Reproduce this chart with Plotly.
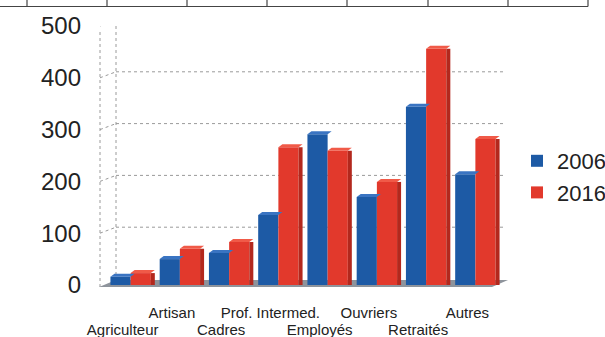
import plotly.graph_objects as go

# Categories and values
categories = ["Agriculteur", "Artisan", "Cadres", "Prof. Intermed.",
              "Employés", "Ouvriers", "Retraités", "Autres"]
values_2006 = [16, 50, 62, 135, 291, 170, 344, 214]
values_2016 = [23, 70, 83, 266, 259, 199, 456, 282]
y_ticks = [0, 100, 200, 300, 400, 500]

BLUE = "#1d5aa5"
BLUE_TOP = "#3a74c2"
RED = "#e2392c"
RED_TOP = "#f05a48"
RED_SIDE = "#b3281d"
FONT = "Liberation Sans, Arial, sans-serif"

W, H = 605, 337
L, R, T, B = 106, 500, 26, 285   # plot area in pixels
DX, DY = 4, 3                    # depth offset of the bar tops


def px(x):
    return (x - L) / (R - L)


def py(y):
    return (B - y) / (B - T)


fig = go.Figure()
fig.add_trace(go.Bar(name="2006", x=categories, y=values_2006,
                     marker=dict(color=BLUE, line=dict(width=0))))
fig.add_trace(go.Bar(name="2016", x=categories, y=values_2016,
                     marker=dict(color=RED, line=dict(width=0))))

shapes = []
line_grey = dict(color="#9a9a9a", width=1, dash="dot")

# table rule above the chart
shapes.append(dict(type="line", xref="paper", yref="paper",
                   x0=px(0), x1=px(588), y0=py(6.5), y1=py(6.5),
                   line=dict(color="#444", width=1.2)))
for xv in [27, 107, 187, 267, 347, 428, 508, 588]:
    shapes.append(dict(type="line", xref="paper", yref="paper",
                       x0=px(xv), x1=px(xv), y0=py(0), y1=py(6.5),
                       line=dict(color="#444", width=1.2)))

# left wall edges
shapes.append(dict(type="line", xref="paper", yref="paper", layer="below",
                   x0=px(100), x1=px(100), y0=py(287), y1=py(29), line=line_grey))
shapes.append(dict(type="line", xref="paper", yref="paper", layer="below",
                   x0=px(116), x1=px(116), y0=py(281), y1=py(23), line=line_grey))

# back-wall grid lines with their wall connectors
for v in y_ticks[1:]:
    shapes.append(dict(type="line", xref="paper", yref="y", layer="below",
                       ysizemode="pixel", yanchor=v, y0=6, y1=6,
                       x0=px(116), x1=px(506), line=line_grey))
    shapes.append(dict(type="line", xref="paper", yref="y", layer="below",
                       ysizemode="pixel", yanchor=v, y0=0, y1=6,
                       x0=px(100), x1=px(116), line=line_grey))

# floor
shapes.append(dict(type="path", xref="paper", yref="paper", layer="below",
                   path=f"M{px(99)},{py(287)} L{px(116)},{py(280)} "
                        f"L{px(508)},{py(280)} L{px(492)},{py(287)} Z",
                   fillcolor="#8e949c", line=dict(width=0)))

# bar width in pixels (grouped, bargap 0.18, two series)
slot = (R - L) / len(categories)
bw = slot * (1 - 0.18) / 2

# top faces and right side faces giving the bars depth
for cat, v_a, v_b in zip(categories, values_2006, values_2016):
    for x_left, v, top in ((-bw, v_a, BLUE_TOP), (0, v_b, RED_TOP)):
        x_right = x_left + bw
        shapes.append(dict(
            type="path", xref="x", xsizemode="pixel", xanchor=cat,
            yref="y", ysizemode="pixel", yanchor=v,
            path=f"M{x_left},0 L{x_left + DX},{DY} L{x_right + DX},{DY} "
                 f"L{x_right},0 Z",
            fillcolor=top, line=dict(width=0)))
    shapes.append(dict(
        type="path", xref="x", xsizemode="pixel", xanchor=cat,
        yref="y", ysizemode="scaled",
        path=f"M{bw},0 L{bw + DX},0 L{bw + DX},{v_b} L{bw},{v_b} Z",
        fillcolor=RED_SIDE, line=dict(width=0)))

shift = 8 / slot
upper = [i for i in range(len(categories)) if i % 2 == 1]
lower = [i for i in range(len(categories)) if i % 2 == 0]

fig.update_layout(
    width=W, height=H,
    margin=dict(l=L, r=W - R, t=T, b=H - B, pad=0, autoexpand=False),
    paper_bgcolor="white", plot_bgcolor="rgba(0,0,0,0)",
    barmode="group", bargap=0.18, bargroupgap=0.0,
    font=dict(family=FONT, color="#222"),
    showlegend=True,
    legend=dict(xref="container", yref="container", x=517 / W, y=1 - 177 / H,
                xanchor="left", yanchor="middle",
                font=dict(size=22, family=FONT, color="#222"),
                bgcolor="rgba(0,0,0,0)", itemwidth=30,
                tracegroupgap=0),
    xaxis=dict(domain=[0, 1], showticklabels=False, showgrid=False,
               zeroline=False, showline=False, ticks="", automargin=False),
    xaxis2=dict(overlaying="x", anchor="y", side="bottom", type="linear",
                range=[-0.5 + shift, len(categories) - 0.5 + shift],
                tickvals=upper, ticktext=[categories[i] for i in upper],
                tickfont=dict(size=15, family=FONT, color="#222"),
                ticklabelstandoff=17, showgrid=False, zeroline=False,
                showline=False, ticks="", automargin=False),
    xaxis3=dict(overlaying="x", anchor="y", side="bottom", type="linear",
                range=[-0.5 + shift, len(categories) - 0.5 + shift],
                tickvals=lower, ticktext=[categories[i] for i in lower],
                tickfont=dict(size=15, family=FONT, color="#222"),
                ticklabelstandoff=34, showgrid=False, zeroline=False,
                showline=False, ticks="", automargin=False),
    yaxis=dict(range=[0, 500], tickvals=y_ticks, showgrid=False,
               zeroline=False, showline=False, ticks="",
               tickfont=dict(size=24, family=FONT, color="#222"),
               ticklabelstandoff=24, automargin=False),
    shapes=shapes,
)

# empty traces so the label axes are drawn
fig.add_trace(go.Scatter(x=[], y=[], xaxis="x2", showlegend=False))
fig.add_trace(go.Scatter(x=[], y=[], xaxis="x3", showlegend=False))

fig.write_html("out.html")
